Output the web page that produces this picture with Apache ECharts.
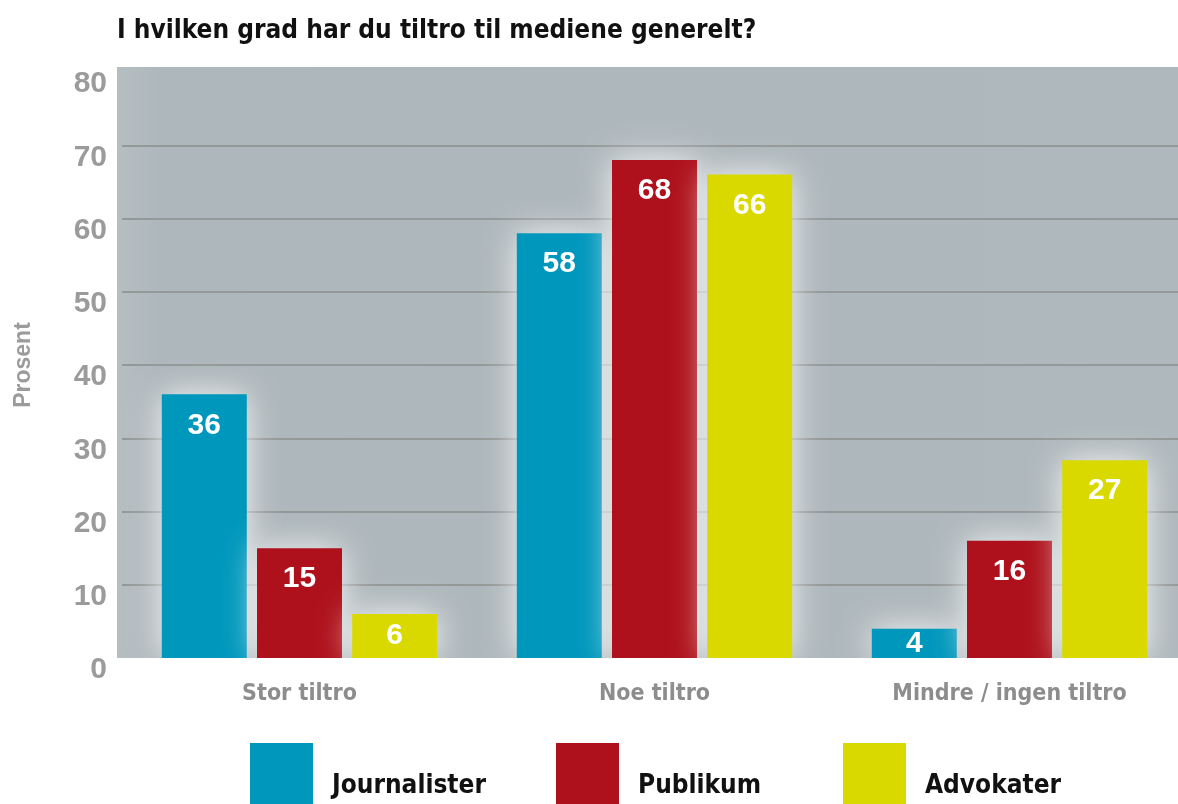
<!DOCTYPE html>
<html>
<head>
<meta charset="utf-8">
<script src="https://cdn.jsdelivr.net/npm/echarts@6/dist/echarts.min.js"></script>
<style>
  html, body { margin: 0; padding: 0; background: #fff; overflow: hidden; }
  /* the plot runs a little past the right edge of the picture */
  #chart { width: 1187px; height: 804px; }
</style>
</head>
<body>
<div id="chart"></div>
<script>
// data
var categories = ['Stor tiltro', 'Noe tiltro', 'Mindre / ingen tiltro'];
var journalister = [36, 58, 4];
var publikum = [15, 68, 16];
var advokater = [6, 66, 27];
var seriesNames = ['Journalister', 'Publikum', 'Advokater'];
var colors = ['#0097bc', '#ae111b', '#d9d900'];

var narrow = "'Liberation Sans Narrow', 'DejaVu Sans Condensed', 'Liberation Sans', sans-serif";
var sans = "'Liberation Sans', Arial, sans-serif";

var chart = echarts.init(document.getElementById('chart'));

// small bars get their number centered, the rest sit at the top
function withLabels(values) {
    return values.map(function (v) {
        if (v < 10) {
            return { value: v, label: { position: 'inside' } };
        }
        return v;
    });
}

function makeSeries(i, values) {
    return {
        name: seriesNames[i],
        type: 'bar',
        barWidth: 85,
        barGap: '12%',
        itemStyle: {
            color: colors[i],
            shadowColor: 'rgba(255,255,255,0.85)',
            shadowBlur: 32
        },
        label: {
            show: true,
            position: 'insideTop',
            distance: 16,
            color: '#fff',
            fontFamily: sans,
            fontWeight: 'bold',
            fontSize: 30
        },
        data: withLabels(values)
    };
}

function legendAt(left, i) {
    return {
        left: left,
        top: 743,
        padding: 0,
        itemWidth: 63,
        itemHeight: 86,
        itemGap: 0,
        icon: 'rect',
        selectedMode: false,
        data: [seriesNames[i]],
        textStyle: {
            color: '#111',
            fontFamily: narrow,
            fontWeight: 'bold',
            fontSize: 26,
            padding: [0, 0, 0, 14]
        }
    };
}

var option = {
    animation: false,
    color: colors,
    title: {
        text: 'I hvilken grad har du tiltro til mediene generelt?',
        left: 117,
        top: 18,
        padding: 0,
        textStyle: {
            color: '#111',
            fontFamily: narrow,
            fontWeight: 'bold',
            fontSize: 26
        }
    },
    graphic: [{
        type: 'rect',
        z: -10,
        silent: true,
        shape: { x: 117, y: 67, width: 1070, height: 591 },
        style: {
            fill: new echarts.graphic.LinearGradient(0, 0, 1, 0, [
                { offset: 0, color: '#b6bec2' },
                { offset: 0.04, color: '#aeb7bb' },
                { offset: 1, color: '#afb8bc' }
            ])
        }
    }],
    legend: [legendAt(250, 0), legendAt(556, 1), legendAt(843, 2)],
    grid: {
        left: 122,
        top: 72,
        right: 0,
        bottom: 146,
        containLabel: false
    },
    xAxis: {
        type: 'category',
        data: categories,
        axisLine: { show: false },
        axisTick: { show: false },
        axisLabel: {
            margin: 25,
            color: '#8c8c8c',
            fontFamily: narrow,
            fontWeight: 'bold',
            fontSize: 23
        }
    },
    yAxis: {
        type: 'value',
        min: 0,
        max: 80,
        interval: 10,
        name: 'Prosent',
        nameLocation: 'middle',
        nameGap: 87,
        nameTextStyle: {
            color: '#9b9b9b',
            fontFamily: sans,
            fontWeight: 'bold',
            fontSize: 23
        },
        axisLine: { show: false },
        axisTick: { show: false },
        axisLabel: {
            margin: 15,
            color: '#9b9b9b',
            fontFamily: sans,
            fontWeight: 'bold',
            fontSize: 30,
            verticalAlign: 'top',
            lineHeight: 24
        },
        splitLine: {
            showMinLine: false,
            showMaxLine: false,
            lineStyle: { color: '#939899', width: 2 }
        }
    },
    series: [
        makeSeries(0, journalister),
        makeSeries(1, publikum),
        makeSeries(2, advokater)
    ]
};

chart.setOption(option);
</script>
</body>
</html>
